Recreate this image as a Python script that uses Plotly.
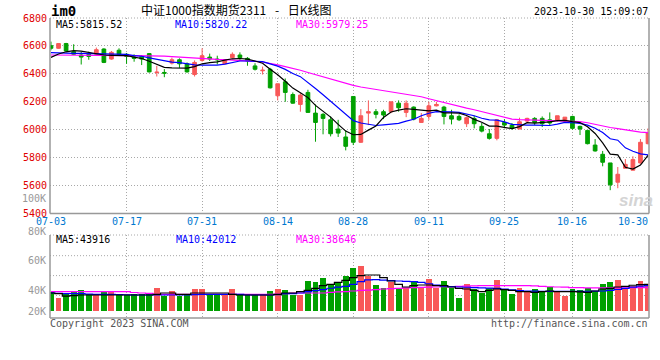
import plotly.graph_objects as go

# ---------------- data ----------------
tick_index = [0, 10, 20, 30, 40, 50, 60, 69, 79]
tick_labels = ["07-03", "07-17", "07-31", "08-14", "08-28", "09-11", "09-25", "10-16", "10-30"]
price_ticks = [5400, 5600, 5800, 6000, 6200, 6400, 6600, 6800]
vol_tick_labels = ["100K", "80K", "60K", "40K", "20K"]

opens = [6602, 6583, 6617, 6559, 6535, 6540, 6540, 6578, 6506, 6569,
         6540, 6520, 6525, 6545, 6409, 6410, 6477, 6501, 6472, 6395,
         6496, 6520, 6506, 6472, 6516, 6535, 6511, 6457, 6422, 6433,
         6243, 6343, 6252, 6181, 6267, 6119, 6110, 6071, 6005, 5948,
         6238, 5910, 6119, 6129, 6129, 6129, 6190, 6124, 6162, 6052,
         6095, 6171, 6162, 6100, 6095, 6043, 6081, 6024, 5971, 5938,
         6052, 6033, 6005, 6062, 6081, 6081, 6071, 6067, 6062, 6095,
         6024, 5995, 5890, 5824, 5762, 5624, 5724, 5710, 5762, 5900]
highs = [6631, 6620, 6622, 6612, 6559, 6559, 6588, 6583, 6564, 6583,
         6549, 6540, 6535, 6549, 6458, 6434, 6516, 6511, 6482, 6496,
         6583, 6545, 6530, 6506, 6554, 6554, 6520, 6476, 6452, 6443,
         6329, 6367, 6267, 6262, 6286, 6181, 6119, 6095, 6071, 5995,
         6238, 6148, 6210, 6148, 6143, 6200, 6210, 6210, 6167, 6119,
         6200, 6200, 6171, 6143, 6110, 6095, 6100, 6048, 6005, 6076,
         6076, 6048, 6086, 6086, 6090, 6095, 6124, 6100, 6090, 6100,
         6029, 5995, 5933, 5848, 5762, 5733, 5790, 5810, 5933, 6010]
lows = [6569, 6580, 6559, 6535, 6467, 6501, 6530, 6477, 6501, 6535,
        6472, 6487, 6463, 6410, 6381, 6376, 6467, 6443, 6409, 6381,
        6487, 6492, 6467, 6467, 6511, 6501, 6458, 6424, 6395, 6295,
        6210, 6200, 6186, 6129, 6124, 5914, 5967, 5952, 5948, 5852,
        5890, 5905, 6033, 6081, 6076, 6119, 6129, 6090, 6067, 6052,
        6071, 6167, 6038, 6038, 6062, 6019, 6010, 5981, 5929, 5924,
        6010, 6000, 6005, 6048, 6033, 6019, 6033, 6057, 6057, 6000,
        5962, 5895, 5843, 5738, 5567, 5581, 5724, 5710, 5757, 5895]
closes = [6583, 6617, 6564, 6540, 6520, 6525, 6573, 6482, 6554, 6540,
          6525, 6511, 6506, 6414, 6412, 6405, 6501, 6472, 6414, 6482,
          6530, 6506, 6501, 6496, 6540, 6516, 6492, 6433, 6426, 6300,
          6329, 6267, 6190, 6248, 6124, 6052, 6081, 5971, 5976, 5881,
          5910, 6100, 6129, 6110, 6105, 6200, 6157, 6190, 6076, 6081,
          6171, 6181, 6095, 6076, 6071, 6086, 6043, 5990, 5938, 6071,
          6033, 6010, 6057, 6081, 6052, 6043, 6048, 6100, 6090, 6010,
          6005, 5900, 5848, 5767, 5605, 5681, 5752, 5786, 5910, 5976]

ma5 = [6518, 6542, 6558, 6567, 6563, 6553, 6546, 6535, 6533, 6534,
       6530, 6520, 6510, 6490, 6468, 6447, 6443, 6440, 6441, 6452,
       6472, 6480, 6486, 6498, 6508, 6510, 6505, 6492, 6476, 6433,
       6394, 6347, 6298, 6264, 6230, 6174, 6135, 6090, 6038, 5990,
       5964, 5966, 5997, 6027, 6088, 6127, 6140, 6150, 6146, 6140,
       6135, 6140, 6121, 6121, 6119, 6102, 6074, 6053, 6026, 6026,
       6015, 6008, 6022, 6050, 6047, 6049, 6056, 6065, 6067, 6058,
       6051, 6021, 5973, 5906, 5825, 5820, 5731, 5718, 5747, 5815.52]
ma10 = [6552, 6552, 6550, 6547, 6546, 6545, 6545, 6545, 6546, 6545,
        6540, 6531, 6526, 6515, 6503, 6492, 6484, 6480, 6470, 6465,
        6463, 6462, 6462, 6470, 6482, 6492, 6492, 6489, 6488, 6472,
        6455, 6432, 6402, 6380, 6340, 6295, 6250, 6205, 6155, 6108,
        6065, 6048, 6040, 6030, 6035, 6040, 6045, 6062, 6075, 6100,
        6118, 6130, 6130, 6128, 6124, 6114, 6100, 6082, 6070, 6068,
        6056, 6038, 6034, 6033, 6033, 6030, 6030, 6040, 6053, 6050,
        6045, 6033, 6010, 5980, 5935, 5925, 5870, 5846, 5827, 5820.22]
ma30 = [6535, 6535, 6535, 6536, 6536, 6535, 6535, 6533, 6532, 6532,
        6531, 6530, 6530, 6529, 6528, 6527, 6524, 6520, 6517, 6514,
        6510, 6507, 6504, 6502, 6500, 6497, 6494, 6490, 6485, 6476,
        6464, 6452, 6440, 6426, 6410, 6394, 6378, 6362, 6348, 6334,
        6318, 6306, 6297, 6289, 6280, 6272, 6264, 6256, 6247, 6236,
        6222, 6208, 6192, 6178, 6166, 6155, 6143, 6130, 6115, 6100,
        6088, 6076, 6072, 6070, 6069, 6068, 6067, 6066, 6064, 6061,
        6058, 6050, 6038, 6028, 6016, 6008, 5998, 5988, 5983, 5979.25]

volume = [31900, 22000, 27500, 30800, 34600, 28600, 26400, 31400, 33000, 26400,
          26400, 27500, 27500, 27500, 38000, 25300, 33000, 25300, 26400, 36300,
          36300, 27500, 27500, 27500, 36300, 27500, 27500, 26400, 26400, 33500,
          36500, 34600, 26500, 26500, 49700, 48400, 54800, 44800, 47300, 58300,
          71500, 74800, 58300, 42900, 38500, 48400, 38500, 38500, 48400, 39600,
          52800, 38500, 49500, 38500, 22000, 44000, 36300, 29700, 37400, 51700,
          35200, 28600, 38500, 30800, 36300, 30800, 39600, 31900, 25300, 36300,
          34100, 37400, 33000, 45000, 48400, 51700, 37400, 41800, 49500, 44000]
vma5 = [29700, 28600, 24500, 25500, 26400, 26400, 26400, 26400, 26400, 26400,
        26400, 26400, 26400, 26400, 27500, 29700, 29700, 27500, 27500, 29700,
        29700, 29700, 29700, 29700, 27500, 26400, 26400, 26400, 26400, 26400,
        27500, 29700, 29700, 31900, 34100, 37400, 41800, 44000, 47300, 50600,
        55000, 58300, 59400, 59400, 55000, 49500, 44000, 39600, 41800, 42900,
        42900, 41800, 41800, 39600, 37400, 36300, 34100, 31900, 34100, 36300,
        35200, 34100, 31900, 31900, 30800, 32000, 33000, 31900, 31900, 31900,
        31500, 30800, 33000, 36300, 37400, 39600, 40700, 42500, 43500, 43916]
vma10 = [29700, 29000, 28600, 28600, 28600, 28000, 27500, 27500, 27500, 27200,
         26800, 26400, 26400, 26400, 26400, 26400, 26400, 26400, 26400, 27000,
         27500, 27500, 27500, 27500, 27500, 27500, 26400, 26400, 26400, 26400,
         27000, 28600, 28600, 29700, 31900, 33500, 35200, 37500, 39500, 40700,
         44000, 48400, 51200, 51700, 51000, 50000, 49500, 48800, 48400, 47300,
         45000, 42900, 41200, 40200, 39600, 39200, 38500, 38100, 37800, 37400,
         36300, 35000, 33500, 33000, 32800, 32600, 32500, 32400, 32400, 32400,
         32500, 32600, 32700, 33000, 34100, 35500, 37400, 39500, 41000, 42012]
vma30 = [31900, 31900, 31900, 31900, 31900, 31900, 31900, 31900, 31900, 31900,
         31900, 30500, 29700, 29000, 27500, 27500, 27500, 27500, 27500, 27500,
         27500, 27500, 27500, 27500, 27500, 27500, 27500, 27500, 27500, 27500,
         28000, 28600, 29700, 29700, 29700, 29700, 29700, 30800, 31400, 31900,
         33000, 34000, 34500, 35200, 36300, 36800, 37400, 38000, 38500, 39000,
         39300, 39600, 40000, 40300, 40700, 41100, 41400, 41800, 41800, 41800,
         41800, 41800, 41800, 41800, 41500, 40500, 40000, 39600, 39300, 38500,
         38500, 38300, 38200, 38100, 38200, 38300, 38400, 38500, 38600, 38646]

days = list(range(len(closes)))

# ---------------- style ----------------
UP = "#f85858"
DN = "#00a000"
BLUE = "#0000ff"
MAG = "#ff00ff"
MONO = "DejaVu Sans Mono"
W, H = 660, 360
ML, MR, MT, MB = 50, 11, 18, 42
PW, PH = W - ML - MR, H - MT - MB


def px(x):
    return (x - ML) / PW


def py(y):
    return 1 - (y - MT) / PH


fig = go.Figure()
fig.add_trace(go.Candlestick(
    x=days, open=opens, high=highs, low=lows, close=closes,
    increasing=dict(line=dict(color=UP, width=1), fillcolor=UP),
    decreasing=dict(line=dict(color=DN, width=1), fillcolor=DN),
    whiskerwidth=0, xaxis="x", yaxis="y", hoverinfo="skip", showlegend=False))
for arr, col in ((ma30, MAG), (ma10, BLUE), (ma5, "#000000")):
    fig.add_trace(go.Scatter(x=days, y=arr, mode="lines", line=dict(color=col, width=1.2),
                             xaxis="x", yaxis="y", hoverinfo="skip", showlegend=False))

vol_colors = [UP if c >= o else DN for o, c in zip(opens, closes)]
fig.add_trace(go.Bar(x=days, y=volume, marker=dict(color=vol_colors, line=dict(width=0)),
                     width=0.78, xaxis="x2", yaxis="y2", hoverinfo="skip", showlegend=False))
for arr, col in ((vma30, MAG), (vma10, BLUE), (vma5, "#000000")):
    fig.add_trace(go.Scatter(x=days, y=arr, mode="lines", line=dict(color=col, width=1.2, shape="hvh"),
                             xaxis="x2", yaxis="y2", hoverinfo="skip", showlegend=False))

GRIDC = "#a8a8a8"
grid = dict(showgrid=True, gridcolor=GRIDC, gridwidth=1, griddash="1px,2px")
xr = [-0.13, len(days) - 1 + 0.13]

fig.update_layout(
    width=W, height=H, margin=dict(l=ML, r=MR, t=MT, b=MB),
    paper_bgcolor="white", plot_bgcolor="white", showlegend=False,
    xaxis=dict(domain=[0, 1], range=xr, anchor="y", tickvals=tick_index, showticklabels=False,
               ticks="", zeroline=False, rangeslider=dict(visible=False), fixedrange=True, **grid),
    xaxis2=dict(domain=[0, 1], range=xr, anchor="y2", tickvals=tick_index, showticklabels=False,
                ticks="", zeroline=False, fixedrange=True, **grid),
    yaxis=dict(domain=[py(213.5), 1], range=[price_ticks[0], price_ticks[-1]], tickvals=price_ticks,
               ticktext=[str(v) for v in price_ticks], ticks="", ticklabelstandoff=2,
               tickfont=dict(family=MONO, size=10, color="#e00000"), zeroline=False, **grid),
    yaxis2=dict(domain=[0, py(235)], range=[-7 * 1650, 76 * 1650], showticklabels=False,
                showgrid=False, zeroline=False),
    bargap=0,
)

solid = dict(color="#999999", width=1.5)
dotted = dict(color=GRIDC, width=1, dash="1px,2px")
shapes = []
for yref in ("y domain", "y2 domain"):
    xref = "x domain" if yref == "y domain" else "x2 domain"
    shapes.append(dict(type="line", xref=xref, yref=yref, x0=0, x1=0, y0=0, y1=1, line=solid, layer="above"))
    shapes.append(dict(type="line", xref=xref, yref=yref, x0=1, x1=1, y0=0, y1=1, line=solid, layer="above"))
    shapes.append(dict(type="line", xref=xref, yref=yref, x0=0, x1=1, y0=0, y1=0, line=solid, layer="above"))
    shapes.append(dict(type="line", xref=xref, yref=yref, x0=0, x1=1, y0=1, y1=1, line=dotted, layer="below"))
for f in (0.751, 0.511, 0.271):
    shapes.append(dict(type="line", xref="x2 domain", yref="y2 domain", x0=0, x1=1, y0=f, y1=f,
                       line=dotted, layer="below"))
fig.update_layout(shapes=shapes)

ann = []


def text(t, x, y, color="#000000", size=10, family=MONO, xanchor="left", **kw):
    ann.append(dict(text=t, x=px(x), y=py(y), xref="paper", yref="paper", showarrow=False,
                    xanchor=xanchor, yanchor="middle", font=dict(family=family, size=size, color=color),
                    borderpad=0, **kw))


# header
text("<b>im0</b>", 50, 11.5, size=14)
text("中证1000指数期货2311 \u2002-\u2002 日K线图", 237, 9.5, size=12, family="Noto Sans CJK SC",
     xanchor="center")
text("2023-10-30 15:09:07", 649, 11.7, xanchor="right")
# MA legends
text("MA5:5815.52", 55, 24)
text("MA10:5820.22", 174, 24, color=BLUE)
text("MA30:5979.25", 295, 24, color=MAG)
text("MA5:43916", 55, 239.5)
text("MA10:42012", 175, 239.5, color=BLUE)
text("MA30:38646", 295, 239.5, color=MAG)
# x labels
for i, lab in zip(tick_index, tick_labels):
    if i == tick_index[-1]:
        ann.append(dict(text=lab, x=1, y=py(221), xref="paper", yref="paper", showarrow=False,
                        xanchor="right", yanchor="middle", borderpad=0,
                        font=dict(family=MONO, size=10, color="#0078d0")))
    else:
        ann.append(dict(text=lab, x=i, y=py(221), xref="x", yref="paper", showarrow=False,
                        xanchor="center", yanchor="middle", borderpad=0,
                        font=dict(family=MONO, size=10, color="#0078d0")))
# volume axis labels
for lab, ypix in zip(vol_tick_labels, [198.5, 231.5, 260, 290, 311]):
    text(lab, 46.5, ypix, color="#999999", xanchor="right")
# footer
text("Copyright 2023 SINA.COM", 49, 323.7, color="#555555")
text("http://finance.sina.com.cn", 649, 323.7, color="#555555", xanchor="right")
# watermark
text("<b><i>sina</i></b>", 636, 200, color="#d4d4d4", size=17, family="Liberation Sans", xanchor="center")

fig.update_layout(annotations=ann)
fig.write_html("out.html", config={"displayModeBar": False, "staticPlot": True},
               post_script="document.body.style.margin='0px';document.body.style.padding='0px';")
